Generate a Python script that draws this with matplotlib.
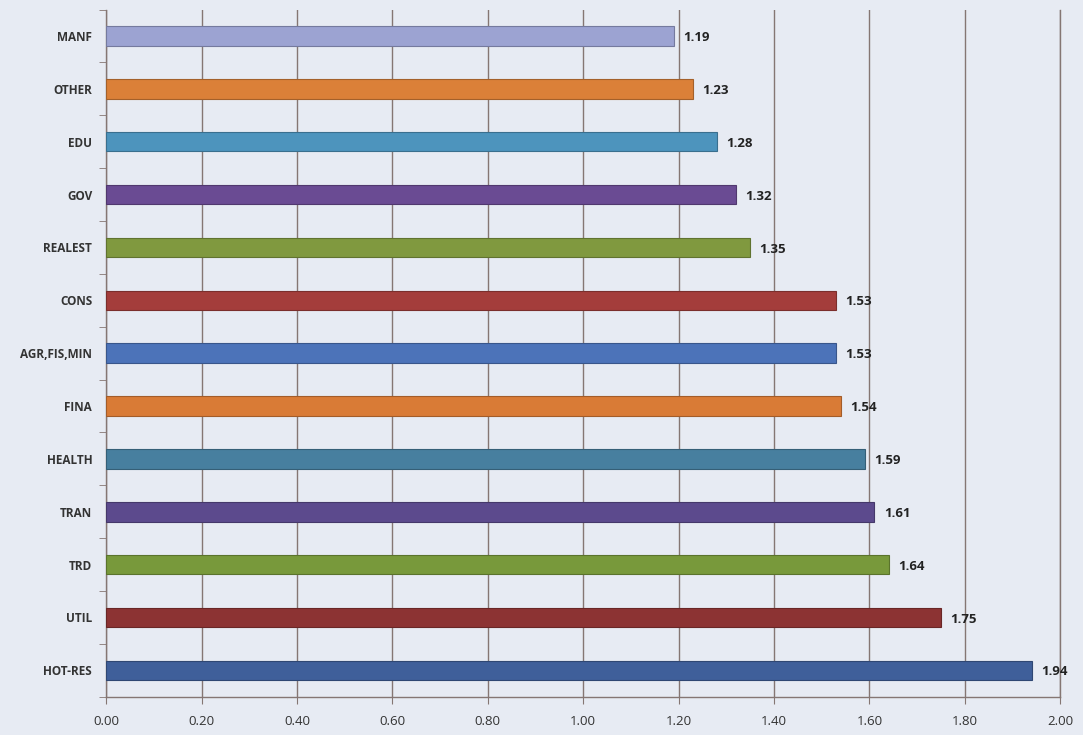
import numpy as np
import matplotlib
matplotlib.use('Agg')
import matplotlib.pyplot as plt

sectors = ['MANF', 'OTHER', 'EDU', 'GOV', 'REALEST', 'CONS', 'AGR,FIS,MIN',
           'FINA', 'HEALTH', 'TRAN', 'TRD', 'UTIL', 'HOT-RES']
values = [1.19, 1.23, 1.28, 1.32, 1.35, 1.53, 1.53, 1.54, 1.59, 1.61, 1.64, 1.75, 1.94]
colors = ['#9ca3d2', '#db8038', '#4d94bd', '#6a4b93', '#80993f', '#a43d3b', '#4c73b9',
          '#d97b36', '#477f9f', '#5c4a8d', '#78993b', '#8c3333', '#3f5f9a']
xticks = [0.0, 0.2, 0.4, 0.6, 0.8, 1.0, 1.2, 1.4, 1.6, 1.8, 2.0]

bg = '#e7ebf3'
grid_col = '#857673'

plt.rcParams['font.family'] = ['Open Sans', 'DejaVu Sans']

fig = plt.figure(figsize=(10.83, 7.35), dpi=100, facecolor=bg)
ax = fig.add_axes([0.098, 0.052, 0.881, 0.935], facecolor=bg)

y = np.arange(len(sectors))
edge = [matplotlib.colors.to_rgba(c) for c in colors]
edge = [(r * 0.75, g * 0.75, b * 0.75, 1) for r, g, b, a in edge]
ax.barh(y, values, height=0.37, color=colors, edgecolor=edge, linewidth=0.8, zorder=3)

for yi, v in zip(y, values):
	ax.text(v + 0.02, yi + 0.03, '%.2f' % v, va='center', ha='left', fontsize=9.5,
			fontweight='bold', color='#222222', zorder=4)

ax.set_xlim(0, 2.0)
ax.set_ylim(len(sectors) - 0.5, -0.5)
ax.set_xticks(xticks)
ax.set_xticklabels(['%.2f' % t for t in xticks], fontsize=9.5, color='#333333')
ax.tick_params(axis='x', length=5, color=grid_col, pad=8)

ax.set_yticks(y)
ax.set_yticklabels(sectors, fontsize=8.5, fontweight='bold', color='#333333')
ax.tick_params(axis='y', which='major', length=0, pad=10)
ax.set_yticks(np.arange(-0.5, len(sectors), 1.0), minor=True)
ax.tick_params(axis='y', which='minor', length=5, color=grid_col)

ax.grid(axis='x', color=grid_col, linewidth=1.0, zorder=0)
# the last gridline sits on the axes edge, keep it whole
ax.axvline(2.0, color=grid_col, linewidth=1.0, zorder=0, clip_on=False)
for s in ['top', 'right']:
	ax.spines[s].set_visible(False)
for s in ['left', 'bottom']:
	ax.spines[s].set_color(grid_col)
	ax.spines[s].set_linewidth(1.0)

fig.savefig('out.png', dpi=100, facecolor=bg)
